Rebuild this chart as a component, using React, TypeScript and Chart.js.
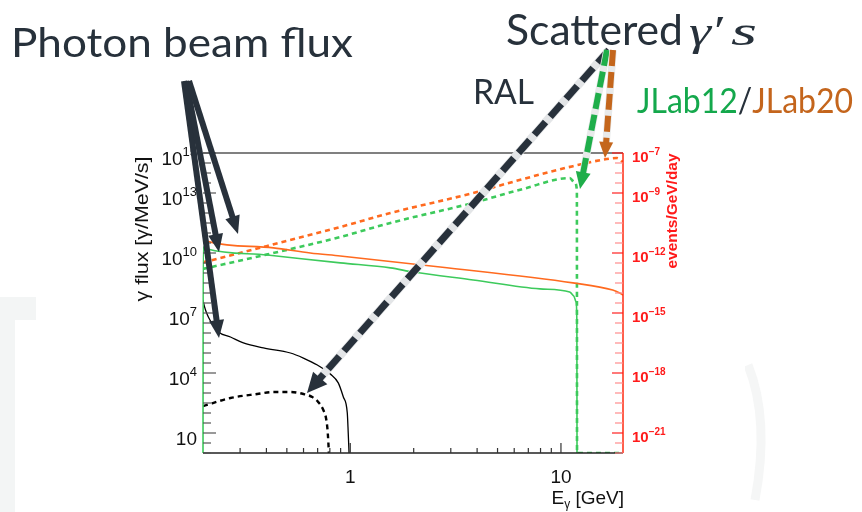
import { useEffect, useRef } from "react";
import { Chart, registerables } from "chart.js";
Chart.register(...registerables);

// ---------- data (x = E_gamma in GeV) ----------
// RAL photon beam flux (left axis, gamma/MeV/s)
const ralFluxE = [0.2, 0.203, 0.208, 0.217, 0.237, 0.27, 0.311, 0.387, 0.52, 0.599, 0.698, 0.804, 0.877, 0.927, 0.968, 0.978, 0.992];
const ralFlux = [4.5e7, 2.2e7, 1.0e7, 4.0e6, 1.12e6, 6.3e5, 3.2e5, 1.8e5, 1.0e5, 5.6e4, 2.5e4, 8.9e3, 3.2e3, 631, 100, 10, 0.25];
// JLab12 photon flux
const jlab12FluxE = [0.2, 0.2005, 0.21, 0.404, 0.897, 1.55, 1.99, 3.83, 7.95, 11.0, 11.5, 11.8, 11.9, 11.92];
const jlab12Flux = [0.1, 2.0e10, 1.6e10, 7.9e9, 3.2e9, 1.8e9, 1.12e9, 4.5e8, 1.6e8, 1.12e8, 7.1e7, 3.5e7, 3.2e6, 0.1];
// JLab20 photon flux
const jlab20FluxE = [0.2, 0.217, 0.432, 0.646, 0.897, 2.67, 11.4, 17.6, 19.0, 19.7];
const jlab20Flux = [5.0e10, 3.5e10, 1.8e10, 1.0e10, 7.1e9, 2.0e9, 3.2e8, 1.4e8, 1.0e8, 7.9e7];
// Scattered events (right axis, events/GeV/day)
const ralEventsE = [0.2, 0.27, 0.362, 0.432, 0.52, 0.599, 0.66, 0.705, 0.745, 0.77, 0.782, 0.791, 0.8];
const ralEvents = [2.2e-20, 5.6e-20, 8.9e-20, 1.12e-19, 1.12e-19, 8.9e-20, 6.3e-20, 3.5e-20, 1.4e-20, 4.5e-21, 1.0e-21, 1.1e-22, 2.5e-24];
const jlab12EventsE = [0.2, 0.4, 0.897, 1.55, 3.83, 6.61, 11.0, 11.6, 11.9, 11.92, 19.7];
const jlab12Events = [1.6e-13, 8.3e-13, 6.3e-12, 3.2e-11, 3.2e-10, 1.6e-9, 5.6e-9, 3.5e-9, 1.4e-9, 1e-22, 1e-22];
const jlab20EventsE = [0.2, 0.4, 0.897, 1.55, 3.83, 6.61, 11.4, 16.5, 18.4, 19.7];
const jlab20Events = [3.4e-13, 2.2e-12, 2.0e-11, 1.0e-10, 1.0e-9, 5.0e-9, 2.2e-8, 5.0e-8, 5.6e-8, 3.5e-8];

// ---------- axes ----------
const xMin = 0.2, xMax = 19.7;
const yMin = 1, yMax = 1e15;
const y1Min = 1e-22, y1Max = 1e-7;
const xMinorTicks = [0.3, 0.4, 0.5, 0.6, 0.7, 0.8, 0.9, 2, 3, 4, 5, 6, 7, 8, 9];
const xMajorTicks = [1, 10];
const xTickLabels = ["1", "10"];
const leftLabelValues = [1e1, 1e4, 1e7, 1e10, 1e13, 1e15];
const leftLabelSup = ["", "4", "7", "10", "13", "15"];
const rightLabelValues = [1e-7, 1e-9, 1e-12, 1e-15, 1e-18, 1e-21];
const rightLabelSup = ["\u22127", "\u22129", "\u221212", "\u221215", "\u221218", "\u221221"];

const ORANGE = "#ff6a1f";
const GREEN = "#3dca5c";
const INK = "#27313b";

const pts = (xs: number[], ys: number[]) => xs.map((x, i) => ({ x, y: ys[i] }));

function fitText(ctx: CanvasRenderingContext2D, text: string, x: number, y: number, width: number, font: string, color: string) {
  ctx.save();
  ctx.font = font;
  const w = ctx.measureText(text).width;
  ctx.translate(x, y);
  ctx.scale(width / w, 1);
  ctx.fillStyle = color;
  ctx.textAlign = "left";
  ctx.textBaseline = "alphabetic";
  ctx.fillText(text, 0, 0);
  ctx.restore();
}

function arrow(ctx: CanvasRenderingContext2D, x1: number, y1: number, x2: number, y2: number, o: any) {
  const a = Math.atan2(y2 - y1, x2 - x1);
  const bx = x2 - o.headLen * Math.cos(a), by = y2 - o.headLen * Math.sin(a);
  ctx.save();
  ctx.lineCap = "butt";
  if (o.dash) {
    ctx.strokeStyle = o.gap;
    ctx.lineWidth = o.width + 1.5;
    ctx.beginPath(); ctx.moveTo(x1, y1); ctx.lineTo(bx, by); ctx.stroke();
    ctx.setLineDash(o.dash);
  }
  ctx.strokeStyle = o.color;
  ctx.lineWidth = o.width;
  ctx.beginPath(); ctx.moveTo(x1, y1); ctx.lineTo(bx + Math.cos(a), by + Math.sin(a)); ctx.stroke();
  ctx.setLineDash([]);
  const nx = -Math.sin(a), ny = Math.cos(a);
  ctx.fillStyle = o.color;
  ctx.beginPath();
  ctx.moveTo(x2, y2);
  ctx.lineTo(bx + nx * o.headW / 2, by + ny * o.headW / 2);
  ctx.lineTo(bx - nx * o.headW / 2, by - ny * o.headW / 2);
  ctx.closePath();
  ctx.fill();
  ctx.restore();
}

const overlay = {
  id: "overlay",
  beforeDraw(chart: any) {
    const ctx: CanvasRenderingContext2D = chart.ctx;
    ctx.save();
    ctx.fillStyle = "#ffffff";
    ctx.fillRect(0, 0, chart.width, chart.height);
    // faint watermark traces
    ctx.fillStyle = "#f3f5f5";
    ctx.fillRect(0, 297, 36, 23);
    ctx.fillRect(0, 320, 15, 192);
    ctx.strokeStyle = "#f5f6f6";
    ctx.lineWidth = 9;
    ctx.beginPath();
    ctx.moveTo(748, 365); ctx.quadraticCurveTo(770, 420, 755, 500);
    ctx.stroke();
    ctx.fillStyle = "#ffffff";
    ctx.fillRect(36, 122, 709, 390);
    ctx.restore();
  },
  afterDraw(chart: any) {
    const ctx: CanvasRenderingContext2D = chart.ctx;
    const { left, right, top, bottom } = chart.chartArea;
    const xs = chart.scales.x, ys = chart.scales.y, y1s = chart.scales.y1;
    ctx.save();
    // frame
    ctx.lineWidth = 2;
    ctx.strokeStyle = "#808080";
    ctx.beginPath(); ctx.moveTo(left, top); ctx.lineTo(right, top); ctx.stroke();
    ctx.lineWidth = 1.5;
    ctx.strokeStyle = "#222222";
    ctx.beginPath(); ctx.moveTo(left, bottom); ctx.lineTo(right, bottom); ctx.stroke();
    ctx.strokeStyle = "#ff2a10";
    ctx.beginPath(); ctx.moveTo(right, top); ctx.lineTo(right, bottom); ctx.stroke();

    // x ticks
    ctx.strokeStyle = "#333333";
    ctx.lineWidth = 1.2;
    for (const v of xMinorTicks) {
      const px = xs.getPixelForValue(v);
      ctx.beginPath(); ctx.moveTo(px, bottom); ctx.lineTo(px, bottom - 5); ctx.stroke();
    }
    for (const v of xMajorTicks) {
      const px = xs.getPixelForValue(v);
      ctx.beginPath(); ctx.moveTo(px, bottom); ctx.lineTo(px, bottom - 10); ctx.stroke();
    }
    ctx.fillStyle = "#111111";
    ctx.font = "19px 'Liberation Sans', Arial, sans-serif";
    ctx.textAlign = "center";
    ctx.textBaseline = "alphabetic";
    xMajorTicks.forEach((v, i) => ctx.fillText(xTickLabels[i], xs.getPixelForValue(v), 483));

    // left ticks (every half decade)
    ctx.strokeStyle = "#555555";
    for (let e = 0; e <= 15; e += 0.5) {
      const py = ys.getPixelForValue(Math.pow(10, e));
      const long = leftLabelValues.some((v) => Math.abs(Math.log10(v) - e) < 0.01);
      ctx.beginPath(); ctx.moveTo(left, py); ctx.lineTo(left + (long ? 13 : 8), py); ctx.stroke();
    }
    // right ticks
    for (let e = -22; e <= -7; e += 0.5) {
      const py = y1s.getPixelForValue(Math.pow(10, e));
      const long = rightLabelValues.some((v) => Math.abs(Math.log10(v) - e) < 0.01);
      ctx.strokeStyle = long ? "#ff2020" : "#ff8c8c";
      ctx.beginPath(); ctx.moveTo(right, py); ctx.lineTo(right - (long ? 11 : 8), py); ctx.stroke();
    }

    // left labels
    const baseF = "19px 'Liberation Sans', Arial, sans-serif";
    const supF = "13px 'Liberation Sans', Arial, sans-serif";
    ctx.textAlign = "left";
    ctx.fillStyle = "#111111";
    leftLabelValues.forEach((v, i) => {
      const py = ys.getPixelForValue(v);
      ctx.font = supF;
      const ws = leftLabelSup[i] ? ctx.measureText(leftLabelSup[i]).width : 0;
      ctx.font = baseF;
      const wb = ctx.measureText("10").width;
      const xr = 197;
      ctx.fillText("10", xr - ws - wb, py + 12);
      if (leftLabelSup[i]) { ctx.font = supF; ctx.fillText(leftLabelSup[i], xr - ws, py + 3); }
    });
    // right labels
    ctx.fillStyle = "#ff1a1a";
    rightLabelValues.forEach((v, i) => {
      const py = y1s.getPixelForValue(v);
      ctx.font = "bold 15px 'Liberation Sans', Arial, sans-serif";
      ctx.fillText("10", 632, py + 9);
      const wb = ctx.measureText("10").width;
      ctx.font = "bold 10px 'Liberation Sans', Arial, sans-serif";
      ctx.fillText(rightLabelSup[i], 632 + wb, py + 2);
    });

    // axis titles
    ctx.save();
    ctx.translate(148, 229);
    ctx.rotate(-Math.PI / 2);
    ctx.font = "18px 'Liberation Sans', Arial, sans-serif";
    const t1 = "\u03b3 flux [\u03b3/MeV/s]";
    const w1 = ctx.measureText(t1).width;
    ctx.scale(145 / w1, 1);
    ctx.fillStyle = "#111111";
    ctx.textAlign = "center";
    ctx.fillText(t1, 0, 0);
    ctx.restore();

    ctx.save();
    ctx.translate(677, 211);
    ctx.rotate(-Math.PI / 2);
    ctx.font = "bold 15px 'Liberation Sans', Arial, sans-serif";
    const t2 = "events/GeV/day";
    const w2 = ctx.measureText(t2).width;
    ctx.scale(115 / w2, 1);
    ctx.fillStyle = "#ff1a1a";
    ctx.textAlign = "center";
    ctx.fillText(t2, 0, 0);
    ctx.restore();

    // x title: E_gamma [GeV]
    ctx.fillStyle = "#111111";
    ctx.textAlign = "left";
    const fE = "19px 'Liberation Sans', Arial, sans-serif";
    const fG = "12px 'Liberation Sans', Arial, sans-serif";
    ctx.font = fE; const wE = ctx.measureText("E").width; const wR = ctx.measureText(" [GeV]").width;
    ctx.font = fG; const wG = ctx.measureText("\u03b3").width;
    let xx = 624 - (wE + wG + wR);
    ctx.font = fE; ctx.fillText("E", xx, 504); xx += wE;
    ctx.font = fG; ctx.fillText("\u03b3", xx, 508); xx += wG;
    ctx.font = fE; ctx.fillText(" [GeV]", xx, 504);

    // slide annotations
    const slideF = (s: number) => `${s}px Lato, 'Open Sans', sans-serif`;
    fitText(ctx, "Photon beam flux", 11, 57, 342, slideF(40), INK);
    fitText(ctx, "Scattered", 506, 45, 177, slideF(42), INK);
    const mathF = "italic 42px 'Liberation Serif', 'DejaVu Serif', serif";
    fitText(ctx, "\u03b3", 689, 45, 22, mathF, INK);
    fitText(ctx, "\u2032", 714, 45, 12, "42px 'Liberation Serif', 'DejaVu Serif', serif", INK);
    fitText(ctx, "s", 731, 45, 26, mathF, INK);
    fitText(ctx, "RAL", 473, 104, 61, slideF(34), INK);
    // JLab12/JLab20
    ctx.font = slideF(34);
    const parts = [["JLab12", "#14a84c"], ["/", INK], ["JLab20", "#c4651c"]];
    const ws = parts.map((p) => ctx.measureText(p[0]).width);
    const total = ws.reduce((a, b) => a + b, 0);
    const sc = 216 / total;
    let px0 = 637;
    parts.forEach((p, i) => {
      ctx.save();
      ctx.translate(px0, 113);
      ctx.scale(sc, 1);
      ctx.fillStyle = p[1];
      ctx.fillText(p[0], 0, 0);
      ctx.restore();
      px0 += ws[i] * sc;
    });

    // arrows
    const dark = "#28313b";
    arrow(ctx, 184, 81, 219, 338, { color: dark, width: 6, headLen: 18, headW: 15 });
    arrow(ctx, 186, 81, 219, 252, { color: dark, width: 6, headLen: 18, headW: 15 });
    arrow(ctx, 189, 81, 238, 234, { color: dark, width: 6, headLen: 18, headW: 15 });
    arrow(ctx, 609, 50, 307, 393, { color: dark, width: 7, headLen: 20, headW: 19, dash: [17, 7], gap: "#e3e5e7" });
    arrow(ctx, 607, 50, 580, 189, { color: "#1fae4a", width: 6, headLen: 17, headW: 15, dash: [16, 6], gap: "#e8eaea" });
    arrow(ctx, 613, 50, 605, 158, { color: "#c4661c", width: 6, headLen: 16, headW: 14, dash: [16, 6], gap: "#e8eaea" });
    ctx.restore();
  },
};

export default function App() {
  const ref = useRef<HTMLCanvasElement | null>(null);
  useEffect(() => {
    if (!ref.current) return;
    const chart = new Chart(ref.current, {
      type: "line",
      data: {
        datasets: [
          { data: pts(jlab20FluxE, jlab20Flux), borderColor: ORANGE, borderWidth: 1.6, yAxisID: "y" },
          { data: pts(jlab12FluxE, jlab12Flux), borderColor: GREEN, borderWidth: 1.6, yAxisID: "y", clip: { left: 2, top: 0, right: 0, bottom: 0 } as any },
          { data: pts(ralFluxE, ralFlux), borderColor: "#000000", borderWidth: 1.3, yAxisID: "y" },
          { data: pts(jlab20EventsE, jlab20Events), borderColor: ORANGE, borderWidth: 2.6, borderDash: [5, 4], yAxisID: "y1" },
          { data: pts(jlab12EventsE, jlab12Events), borderColor: GREEN, borderWidth: 2.6, borderDash: [5, 4], yAxisID: "y1" },
          { data: pts(ralEventsE, ralEvents), borderColor: "#000000", borderWidth: 2.4, borderDash: [5, 4], yAxisID: "y1" },
        ] as any,
      },
      options: {
        responsive: false,
        animation: false,
        events: [],
        layout: { padding: { left: 203, right: 239, top: 153, bottom: 59 } },
        plugins: { legend: { display: false }, tooltip: { enabled: false } },
        elements: { point: { radius: 0 }, line: { cubicInterpolationMode: "monotone", fill: false } },
        scales: {
          x: { type: "logarithmic", min: xMin, max: xMax, display: false },
          y: { type: "logarithmic", min: yMin, max: yMax, display: false },
          y1: { type: "logarithmic", min: y1Min, max: y1Max, display: false, position: "right" },
        },
      } as any,
      plugins: [overlay],
    });
    return () => chart.destroy();
  }, []);
  return (
    <div style={{ position: "fixed", left: 0, top: 0, width: 862, height: 512 }}>
      <canvas ref={ref} width={862} height={512} style={{ width: 862, height: 512, display: "block" }} />
    </div>
  );
}
